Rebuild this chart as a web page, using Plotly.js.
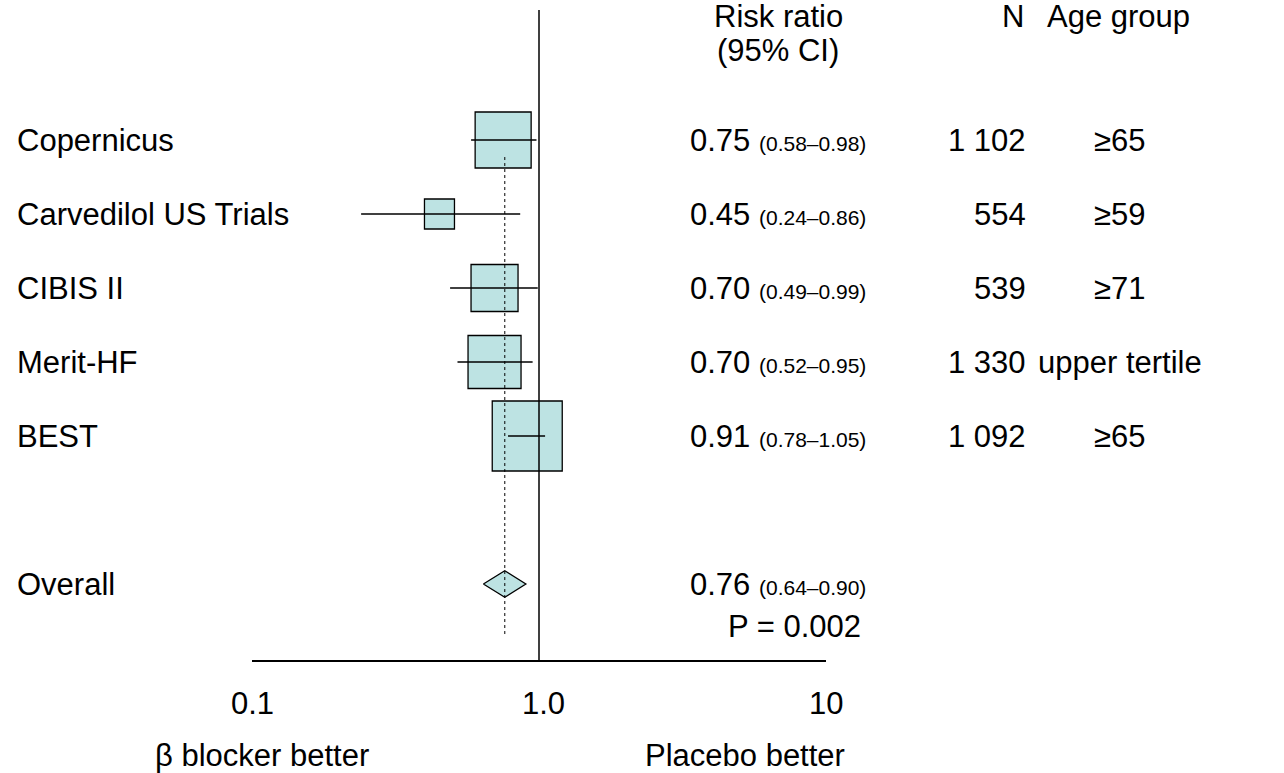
<!DOCTYPE html>
<html><head><meta charset="utf-8">
<script src="https://cdn.plot.ly/plotly-3.0.1.min.js"></script>
<style>body{margin:0;background:#fff}</style>
</head><body>
<div id="chart" style="width:1284px;height:773px"></div>
<script>
const studies = ['Copernicus', 'Carvedilol US Trials', 'CIBIS II', 'Merit-HF', 'BEST'];
const rr = [0.75, 0.45, 0.70, 0.70, 0.91];
const lo = [0.58, 0.24, 0.49, 0.52, 0.78];
const hi = [0.98, 0.86, 0.99, 0.95, 1.05];
const nPatients = ['1 102', '554', '539', '1 330', '1 092'];
const ageGroup = ['≥65', '≥59', '≥71', 'upper tertile', '≥65'];
const boxSize = [56, 30, 47, 53, 70];
const overall = {rr: 0.76, lo: 0.64, hi: 0.90, p: 'P = 0.002'};
const overallRow = 6;

const L = 252, R = 826;
const px = v => (v - L) / (R - L);
const font = {family: 'Liberation Sans, Arial, sans-serif', size: 31, color: '#000'};
const small = 21;

const traces = [];
// boxes
traces.push({x: rr, y: studies.map((s, i) => i), mode: 'markers', type: 'scatter',
    marker: {symbol: 'square', size: boxSize, color: '#bde3e3', opacity: 1, line: {color: '#000', width: 1.3}}});
// CI whiskers on top of boxes
studies.forEach((s, i) => {
    traces.push({x: [lo[i], hi[i]], y: [i, i], mode: 'lines', type: 'scatter',
        line: {color: '#000', width: 1.3}, hoverinfo: 'skip'});
});
// overall diamond
traces.push({x: [overall.lo, overall.rr, overall.hi, overall.rr, overall.lo],
    y: [overallRow, overallRow - 0.18, overallRow, overallRow + 0.18, overallRow],
    mode: 'lines', fill: 'toself', fillcolor: '#bde3e3', line: {color: '#000', width: 1.3}});
// dotted reference at overall estimate
traces.push({x: [overall.rr, overall.rr], y: [0.23, 6.7], mode: 'lines',
    line: {color: '#000', width: 1, dash: 'dot'}});
// line of no effect
traces.push({x: [1, 1], y: [-1.757, 7.027], mode: 'lines', line: {color: '#000', width: 1.5}, cliponaxis: false});

const ann = [];
const rowY = i => 1 - (i + 1.757) / 8.784;
const add = (x, y, text, anchor, size) => ann.push({xref: 'paper', yref: 'paper', x: px(x), y: y,
    text: text, showarrow: false, xanchor: anchor, yanchor: 'middle', font: Object.assign({}, font, size ? {size} : {})});
const ci = (e, a, b) => e.toFixed(2) + ' <span style="font-size:' + small + 'px">(' + a.toFixed(2) + '–' + b.toFixed(2) + ')</span>';
studies.forEach((s, i) => {
    add(15, rowY(i), s, 'left');
    add(778, rowY(i), ci(rr[i], lo[i], hi[i]), 'center');
    add(1028, rowY(i), nPatients[i], 'right');
    add(1120, rowY(i), ageGroup[i], 'center');
});
add(15, rowY(overallRow), 'Overall', 'left');
add(778, rowY(overallRow), ci(overall.rr, overall.lo, overall.hi), 'center');
add(794, rowY(overallRow) - 42 / 650, overall.p, 'center');
// headers (y in paper: top of plot=10px, bottom=660px)
const py = p => 1 - (p - 10) / 650;
add(778, py(17), 'Risk ratio', 'center');
add(778, py(51), '(95% CI)', 'center');
add(1013, py(17), 'N', 'center');
add(1118, py(17), 'Age group', 'center');
add(252, py(703), '0.1', 'center');
add(543, py(703), '1.0', 'center');
add(826, py(703), '10', 'center');
add(262, py(755), 'β blocker better', 'center');
add(745, py(755), 'Placebo better', 'center');

const layout = {
    width: 1284, height: 773,
    margin: {l: L, r: 1284 - R, t: 10, b: 113},
    paper_bgcolor: '#fff', plot_bgcolor: '#fff',
    showlegend: false,
    xaxis: {type: 'log', range: [-1, 1], showline: true, linecolor: '#000', linewidth: 1.5,
        showgrid: false, zeroline: false, showticklabels: false, ticks: ''},
    yaxis: {range: [7.027, -1.757], visible: false, showgrid: false, zeroline: false},
    annotations: ann
};
Plotly.newPlot('chart', traces, layout, {displayModeBar: false});
</script>
</body></html>
